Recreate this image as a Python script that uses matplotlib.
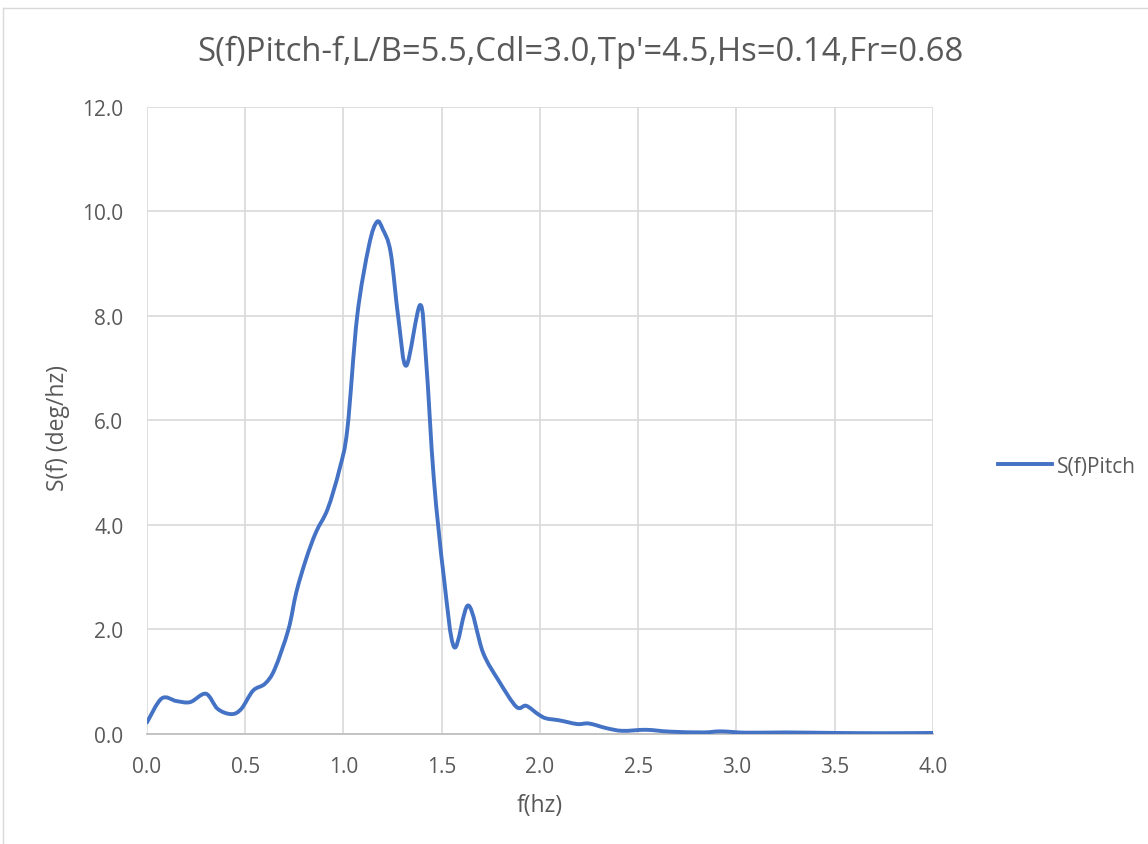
import numpy as np
import matplotlib.pyplot as plt
from matplotlib.path import Path
from matplotlib.patches import PathPatch
from matplotlib.lines import Line2D

# pitch spectrum, frequency (hz) vs S(f) (deg/hz)
freq = [0.0, 0.075, 0.15, 0.22, 0.30, 0.36, 0.43, 0.48, 0.54, 0.60, 0.65,
        0.72, 0.76, 0.81, 0.86, 0.92, 0.98, 1.02, 1.07, 1.13, 1.17, 1.20, 1.24,
        1.28, 1.32, 1.39, 1.42, 1.46, 1.51, 1.564, 1.635, 1.71, 1.79, 1.88,
        1.93, 1.99, 2.03, 2.10, 2.19, 2.25, 2.34, 2.42, 2.54, 2.66, 2.83, 2.92,
        3.05, 3.25, 3.5, 3.75, 4.0]
s_pitch = [0.22, 0.68, 0.63, 0.61, 0.77, 0.48, 0.38, 0.48, 0.83, 0.96, 1.24,
           2.0, 2.71, 3.35, 3.86, 4.31, 5.07, 5.84, 8.0, 9.35, 9.80, 9.66, 9.22,
           7.94, 7.05, 8.21, 7.18, 4.88, 3.03, 1.66, 2.46, 1.56, 1.02, 0.52,
           0.54, 0.38, 0.30, 0.26, 0.19, 0.20, 0.11, 0.06, 0.08, 0.045, 0.03, 0.05,
           0.025, 0.03, 0.02, 0.015, 0.02]

title = "S(f)Pitch-f,L/B=5.5,Cdl=3.0,Tp'=4.5,Hs=0.14,Fr=0.68"
xticks = np.arange(0, 4.01, 0.5)
yticks = np.arange(0, 12.01, 2.0)

blue = '#4472C4'
grey_txt = '#595959'
plt.rcParams['font.family'] = ['Open Sans', 'DejaVu Sans']


def smooth_path(x, y, t=1/6):
    """cubic bezier path through the points (excel style smoothed line)"""
    x = np.asarray(x, float)
    y = np.asarray(y, float)
    n = len(x)
    verts = [(x[0], y[0])]
    codes = [Path.MOVETO]
    for i in range(n - 1):
        p0 = np.array([x[max(i - 1, 0)], y[max(i - 1, 0)]])
        p1 = np.array([x[i], y[i]])
        p2 = np.array([x[i + 1], y[i + 1]])
        p3 = np.array([x[min(i + 2, n - 1)], y[min(i + 2, n - 1)]])
        c1 = p1 + (p2 - p0) * t
        c2 = p2 - (p3 - p1) * t
        verts += [tuple(c1), tuple(c2), tuple(p2)]
        codes += [Path.CURVE4] * 3
    return Path(verts, codes)


fig = plt.figure(figsize=(11.48, 8.45), dpi=100)
ax = fig.add_axes([0.128, 0.1302, 0.6847, 0.742])

patch = PathPatch(smooth_path(freq, s_pitch), facecolor='none', edgecolor=blue,
                  lw=2.8, capstyle='round', joinstyle='round', zorder=3)
ax.add_patch(patch)

ax.set_xlim(0, 4.0)
ax.set_ylim(0, 12.0)
ax.set_xticks(xticks)
ax.set_yticks(yticks)
ax.set_xticklabels([f'{v:.1f}' for v in xticks])
ax.set_yticklabels([f'{v:.1f}' for v in yticks])
ax.tick_params(length=0, labelsize=15, colors=grey_txt)
ax.tick_params(axis='x', pad=16)
ax.tick_params(axis='y', pad=17)
ax.grid(True, color='#d9d9d9', lw=1.2)
ax.set_axisbelow(True)
for sp in ['left', 'right', 'top']:
    ax.spines[sp].set_visible(False)
ax.spines['bottom'].set_color('#bfbfbf')
ax.spines['bottom'].set_linewidth(1.3)

ax.set_xlabel('f(hz)', fontsize=16.5, color=grey_txt)
ax.set_ylabel('S(f) (deg/hz)', fontsize=16.5, color=grey_txt)
ax.xaxis.set_label_coords(0.5, -0.094)
ax.yaxis.set_label_coords(-0.098, 0.49)
fig.text(0.506, 0.938, title, ha='center', va='center', fontsize=23.7, color=grey_txt)

handle = Line2D([], [], color=blue, lw=2.8)
fig.legend([handle], ['S(f)Pitch'], loc='center left', bbox_to_anchor=(0.8693, 0.4473),
           frameon=False, fontsize=15, labelcolor=grey_txt, handlelength=2.6,
           handletextpad=0.25, borderpad=0, borderaxespad=0)

# chart area border
fig.add_artist(Line2D([3 / 1148, 3 / 1148], [0, 1 - 9 / 845], color='#d9d9d9', lw=1))
fig.add_artist(Line2D([3 / 1148, 1], [1 - 9 / 845, 1 - 9 / 845], color='#d9d9d9', lw=1))

fig.savefig('out.png', dpi=100, facecolor='white')
